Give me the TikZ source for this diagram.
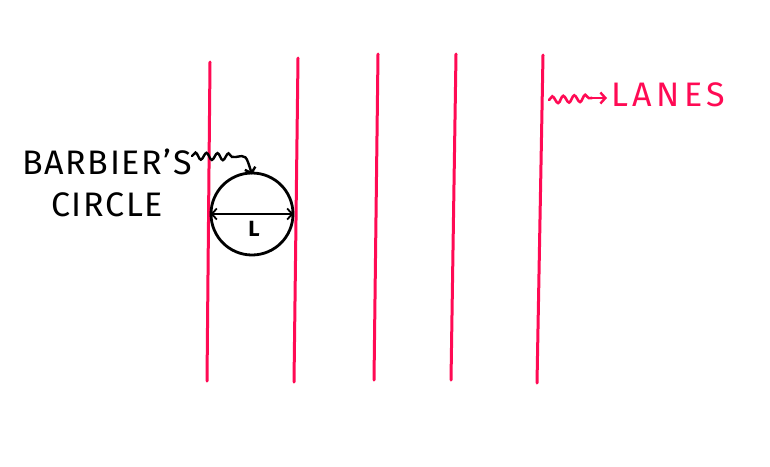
\documentclass[tikz,border=0pt]{standalone}
\usepackage{fontspec}
\setsansfont{Fira Sans}
\usetikzlibrary{arrows.meta,decorations.pathmorphing}
\definecolor{lanepink}{RGB}{255,10,84}
\tikzset{
  lane/.style={draw=lanepink, line width=3pt, line cap=round},
  ink/.style={draw=black, line width=2.8pt, line cap=round},
  wiggle/.style={decorate, decoration={snake, amplitude=3.5pt, segment length=11pt}},
  barb/.style={-{Straight Barb[length=5pt,width=11pt,line width=2.4pt]}},
  hand/.style={font=\sffamily\fontsize{34}{40}\selectfont\addfontfeature{LetterSpace=5}, inner sep=0pt}
}
\begin{document}
\begin{tikzpicture}[x=1pt,y=-1pt]
\useasboundingbox[fill=white] (0,0) rectangle (770,466);
% lanes
\coordinate (l1t) at (210,62);  \coordinate (l1b) at (207,381);
\coordinate (l2t) at (298,58);  \coordinate (l2b) at (294,382);
\coordinate (l3t) at (378,54);  \coordinate (l3b) at (374,380);
\coordinate (l4t) at (456,54);  \coordinate (l4b) at (451,380);
\coordinate (l5t) at (543,55);  \coordinate (l5b) at (537,383);
\foreach \i in {1,...,5} \draw[lane] (l\i t) -- (l\i b);
% circle
\node[circle, ink, minimum size=82pt, inner sep=0pt] (bc) at (252,214) {};
\draw[ink, line width=2pt, {Straight Barb[length=5pt,width=11pt,line width=1.8pt]}-{Straight Barb[length=5pt,width=11pt,line width=1.8pt]}]
  ([xshift=1pt]bc.west) -- ([xshift=-1pt]bc.east);
\node[font=\sffamily\bfseries\fontsize{22}{25}\selectfont, inner sep=0pt] (lab) at (254,229) {L};
% Barbier's label
\node[hand, align=center] (bt) at (107,183) {BARBIER'S\\[2pt]CIRCLE};
\coordinate (bs) at (192,156);
\coordinate (bm) at (236,157);
\draw[ink, line width=2.4pt, wiggle] (bs) -- (bm);
\draw[ink, line width=2.4pt, barb] (bm) .. controls (246,155) .. ([yshift=-3pt]bc.north);
% lanes label
\node[hand, text=lanepink, anchor=west, font=\sffamily\fontsize{34}{40}\selectfont\addfontfeature{LetterSpace=13}] (ln) at (611,95) {LANES};
\coordinate (ls) at (549,100);
\coordinate (lm) at (592,98);
\draw[lane, line width=2.6pt, wiggle] (ls) -- (lm);
\draw[lane, line width=2.6pt, barb] (lm) -- ([xshift=-4pt]ln.west |- lm);
\end{tikzpicture}
\end{document}
